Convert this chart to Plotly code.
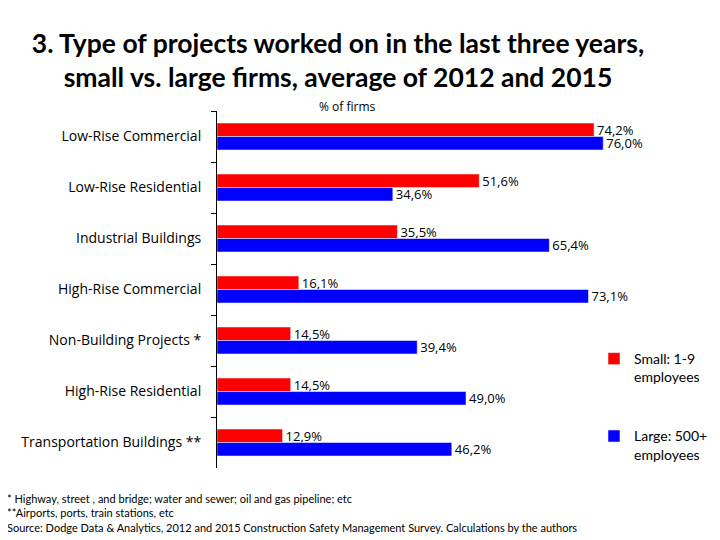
import plotly.graph_objects as go

categories = ["Low-Rise Commercial", "Low-Rise Residential", "Industrial Buildings",
              "High-Rise Commercial", "Non-Building Projects *", "High-Rise Residential",
              "Transportation Buildings **"]
small_vals = [74.2, 51.6, 35.5, 16.1, 14.5, 14.5, 12.9]
large_vals = [76.0, 34.6, 65.4, 73.1, 39.4, 49.0, 46.2]
small_name = "Small: 1-9<br>employees"
large_name = "Large: 500+<br>employees"

def fmt(v):
    return f"{v:.1f}%".replace(".", ",")

# page has an 8px body margin, so the figure is drawn at (8, 8)
OFF = 8
W, H = 720 - OFF, 540 - OFF
# plot area in page pixels: x 217..620, y 111..468
L, R, T, B = 217 - OFF, 720 - 620, 111 - OFF, 540 - 468
pw, ph = W - L - R, H - T - B
def px_x(x):  # page px -> paper
    return (x - OFF - L) / pw
def px_y(y):
    return (H - B - (y - OFF)) / ph
def cx(x):  # page px -> container
    return (x - OFF) / W
def cy(y):
    return 1 - (y - OFF) / H

fig = go.Figure()
for vals, name, color, grp in [(small_vals, small_name, "#FF0000", "s"),
                               (large_vals, large_name, "#0000FF", "l")]:
    fig.add_trace(go.Bar(
        y=categories, x=vals, orientation="h", name=name,
        marker=dict(color=color, line=dict(color="white", width=0.5)),
        text=[fmt(v) for v in vals], textposition="outside",
        constraintext="none",
        textfont=dict(family="Open Sans", size=13, color="black"),
        cliponaxis=False, legendgroup=grp,
    ))

fig.update_layout(
    width=W, height=H,
    margin=dict(l=L, r=R, t=T, b=B, autoexpand=False),
    paper_bgcolor="white", plot_bgcolor="white",
    barmode="group", bargap=0.47, bargroupgap=0.0,
    font=dict(family="Lato", color="black"),
    title=dict(
        text="3. Type of projects worked on in the last three years,<br>small vs. large firms, average of 2012 and 2015",
        x=cx(338), xanchor="center", xref="container",
        y=cy(53), yanchor="top", yref="container",
        font=dict(family="Lato", size=26.5, color="black", weight="bold"),
    ),
    xaxis=dict(range=[0, 79.3], visible=False, automargin=False),
    yaxis=dict(
        type="category", autorange="reversed", automargin=False,
        showline=True, linecolor="black", linewidth=1,
        ticks="outside", tickson="boundaries", ticklen=5, tickcolor="black",
        tickfont=dict(family="Open Sans", size=14, color="black"),
        ticklabelstandoff=12, showgrid=False,
    ),
    legend=dict(
        xref="container", yref="container",
        x=cx(594), xanchor="left", y=cy(343), yanchor="top",
        valign="top", tracegroupgap=38,
        font=dict(family="Lato", size=14, color="black"),
        itemwidth=30, bgcolor="rgba(0,0,0,0)",
    ),
    showlegend=True,
)

fig.add_annotation(
    text="% of firms", xref="paper", yref="paper",
    x=px_x(347), y=px_y(106), xanchor="center", yanchor="middle",
    showarrow=False, font=dict(family="Open Sans", size=12, color="black"),
)
fig.add_annotation(
    text="* Highway, street , and bridge; water and sewer; oil and gas pipeline; etc<br>"
         "**Airports, ports, train stations, etc<br>"
         "Source: Dodge Data & Analytics, 2012 and 2015 Construction Safety Management Survey. Calculations by the authors",
    xref="paper", yref="paper", x=px_x(5), y=px_y(490),
    xanchor="left", yanchor="top", align="left", showarrow=False,
    font=dict(family="Lato", size=11, color="black"),
)

fig.write_html("out.html")
